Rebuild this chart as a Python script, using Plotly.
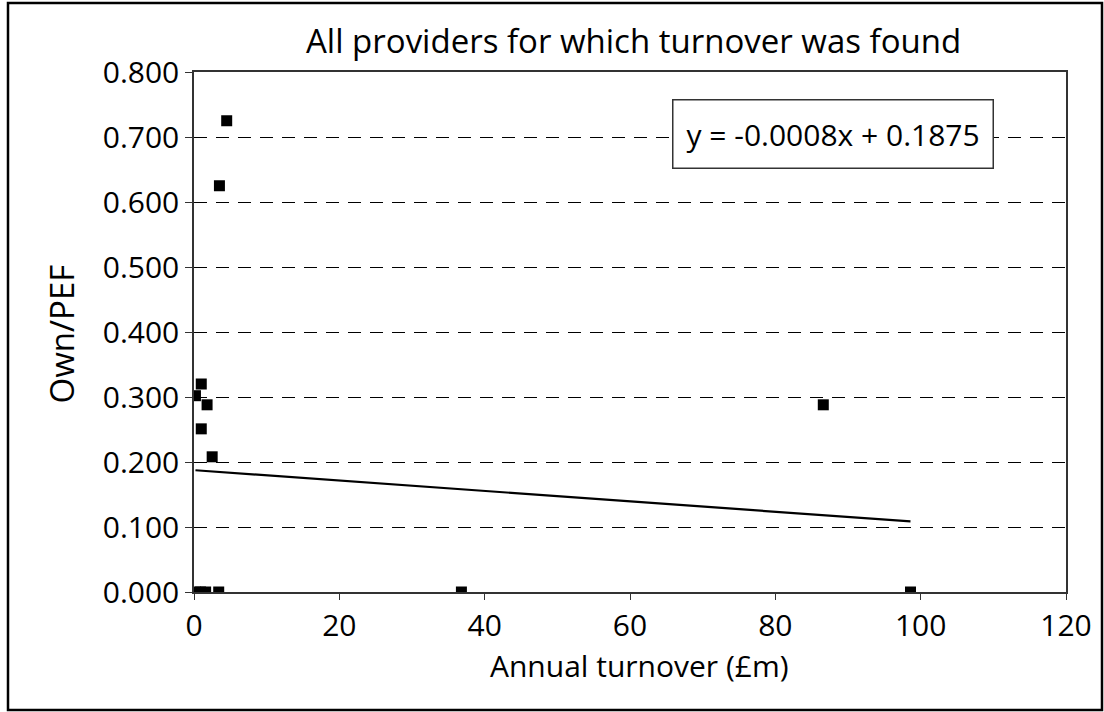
import plotly.graph_objects as go

# Annual turnover (£m) and Own/PEF ratio per provider
turnover = [4.5, 3.5, 1.0, 0.2, 1.8, 1.0, 2.5, 86.6, 0.2, 0.9, 1.6, 3.4, 36.8, 98.6]
own_pef = [0.725, 0.625, 0.320, 0.302, 0.288, 0.251, 0.208, 0.288, 0.0, 0.0, 0.0, 0.0, 0.0, 0.0]

# linear trendline as shown on the chart
slope = -0.0008
intercept = 0.1875

x_ticks = [0, 20, 40, 60, 80, 100, 120]
y_ticks = [0.0, 0.1, 0.2, 0.3, 0.4, 0.5, 0.6, 0.7, 0.8]

FONT = "Open Sans"

trend_x = [min(turnover), max(turnover)]
trend_y = [slope * x + intercept for x in trend_x]

fig = go.Figure()

fig.add_trace(go.Scatter(
    x=trend_x, y=trend_y,
    mode='lines',
    line=dict(color='black', width=2.2),
    showlegend=False,
    hoverinfo='skip'
))

fig.add_trace(go.Scatter(
    x=turnover, y=own_pef,
    mode='markers',
    marker=dict(symbol='square', size=11, color='black'),
    showlegend=False
))

fig.update_layout(
    width=1104, height=712,
    margin=dict(l=194, r=35, t=72, b=120),
    paper_bgcolor='white',
    plot_bgcolor='white',
    font=dict(family=FONT, color='black', size=30),
    showlegend=False,
)

fig.update_xaxes(
    range=[0, 120],
    tickvals=x_ticks,
    ticktext=[str(v) for v in x_ticks],
    showgrid=False,
    zeroline=False,
    showline=True, linecolor='#333', linewidth=1.5, mirror=True,
    ticks='outside', ticklen=6, tickcolor='#333', tickwidth=1,
    tickfont=dict(size=30),
)

fig.update_yaxes(
    range=[0, 0.8],
    tickvals=y_ticks,
    ticktext=[f"{v:.3f}" for v in y_ticks],
    showgrid=True, gridcolor='black', gridwidth=1, griddash='13px,9px',
    zeroline=False,
    showline=True, linecolor='#333', linewidth=1.5, mirror=True,
    ticks='outside', ticklen=7, tickcolor='#333', tickwidth=1,
    tickfont=dict(size=30),
)

# outer frame
fig.add_shape(
    type='rect', xref='paper', yref='paper',
    xsizemode='pixel', ysizemode='pixel', xanchor=0, yanchor=0,
    x0=-186, x1=908, y0=-118, y1=589,
    line=dict(color='black', width=2.5),
    fillcolor='rgba(0,0,0,0)', layer='above'
)

fig.add_annotation(
    text='All providers for which turnover was found',
    xref='paper', yref='paper', x=(635 - 194) / 875, y=(592 - 40) / 520,
    xanchor='center', yanchor='middle', showarrow=False,
    font=dict(size=33)
)
fig.add_annotation(
    text='Annual turnover (£m)',
    xref='paper', yref='paper', x=(641 - 194) / 875, y=(592 - 665) / 520,
    xanchor='center', yanchor='middle', showarrow=False,
    font=dict(size=30)
)
fig.add_annotation(
    text='Own/PEF',
    xref='paper', yref='paper', x=(61 - 194) / 875, y=(592 - 334) / 520,
    xanchor='center', yanchor='middle', showarrow=False,
    textangle=-90, font=dict(size=33)
)
fig.add_annotation(
    text=f'y = {slope:.4f}x + {intercept:.4f}',
    xref='paper', yref='paper', x=(835 - 194) / 875, y=(592 - 134) / 520,
    xanchor='center', yanchor='middle', showarrow=False,
    bgcolor='white', bordercolor='#333', borderwidth=1.5, borderpad=13,
    font=dict(size=30)
)

fig.write_html("out.html", config={'displayModeBar': False},
               post_script="document.body.style.margin='0';")
